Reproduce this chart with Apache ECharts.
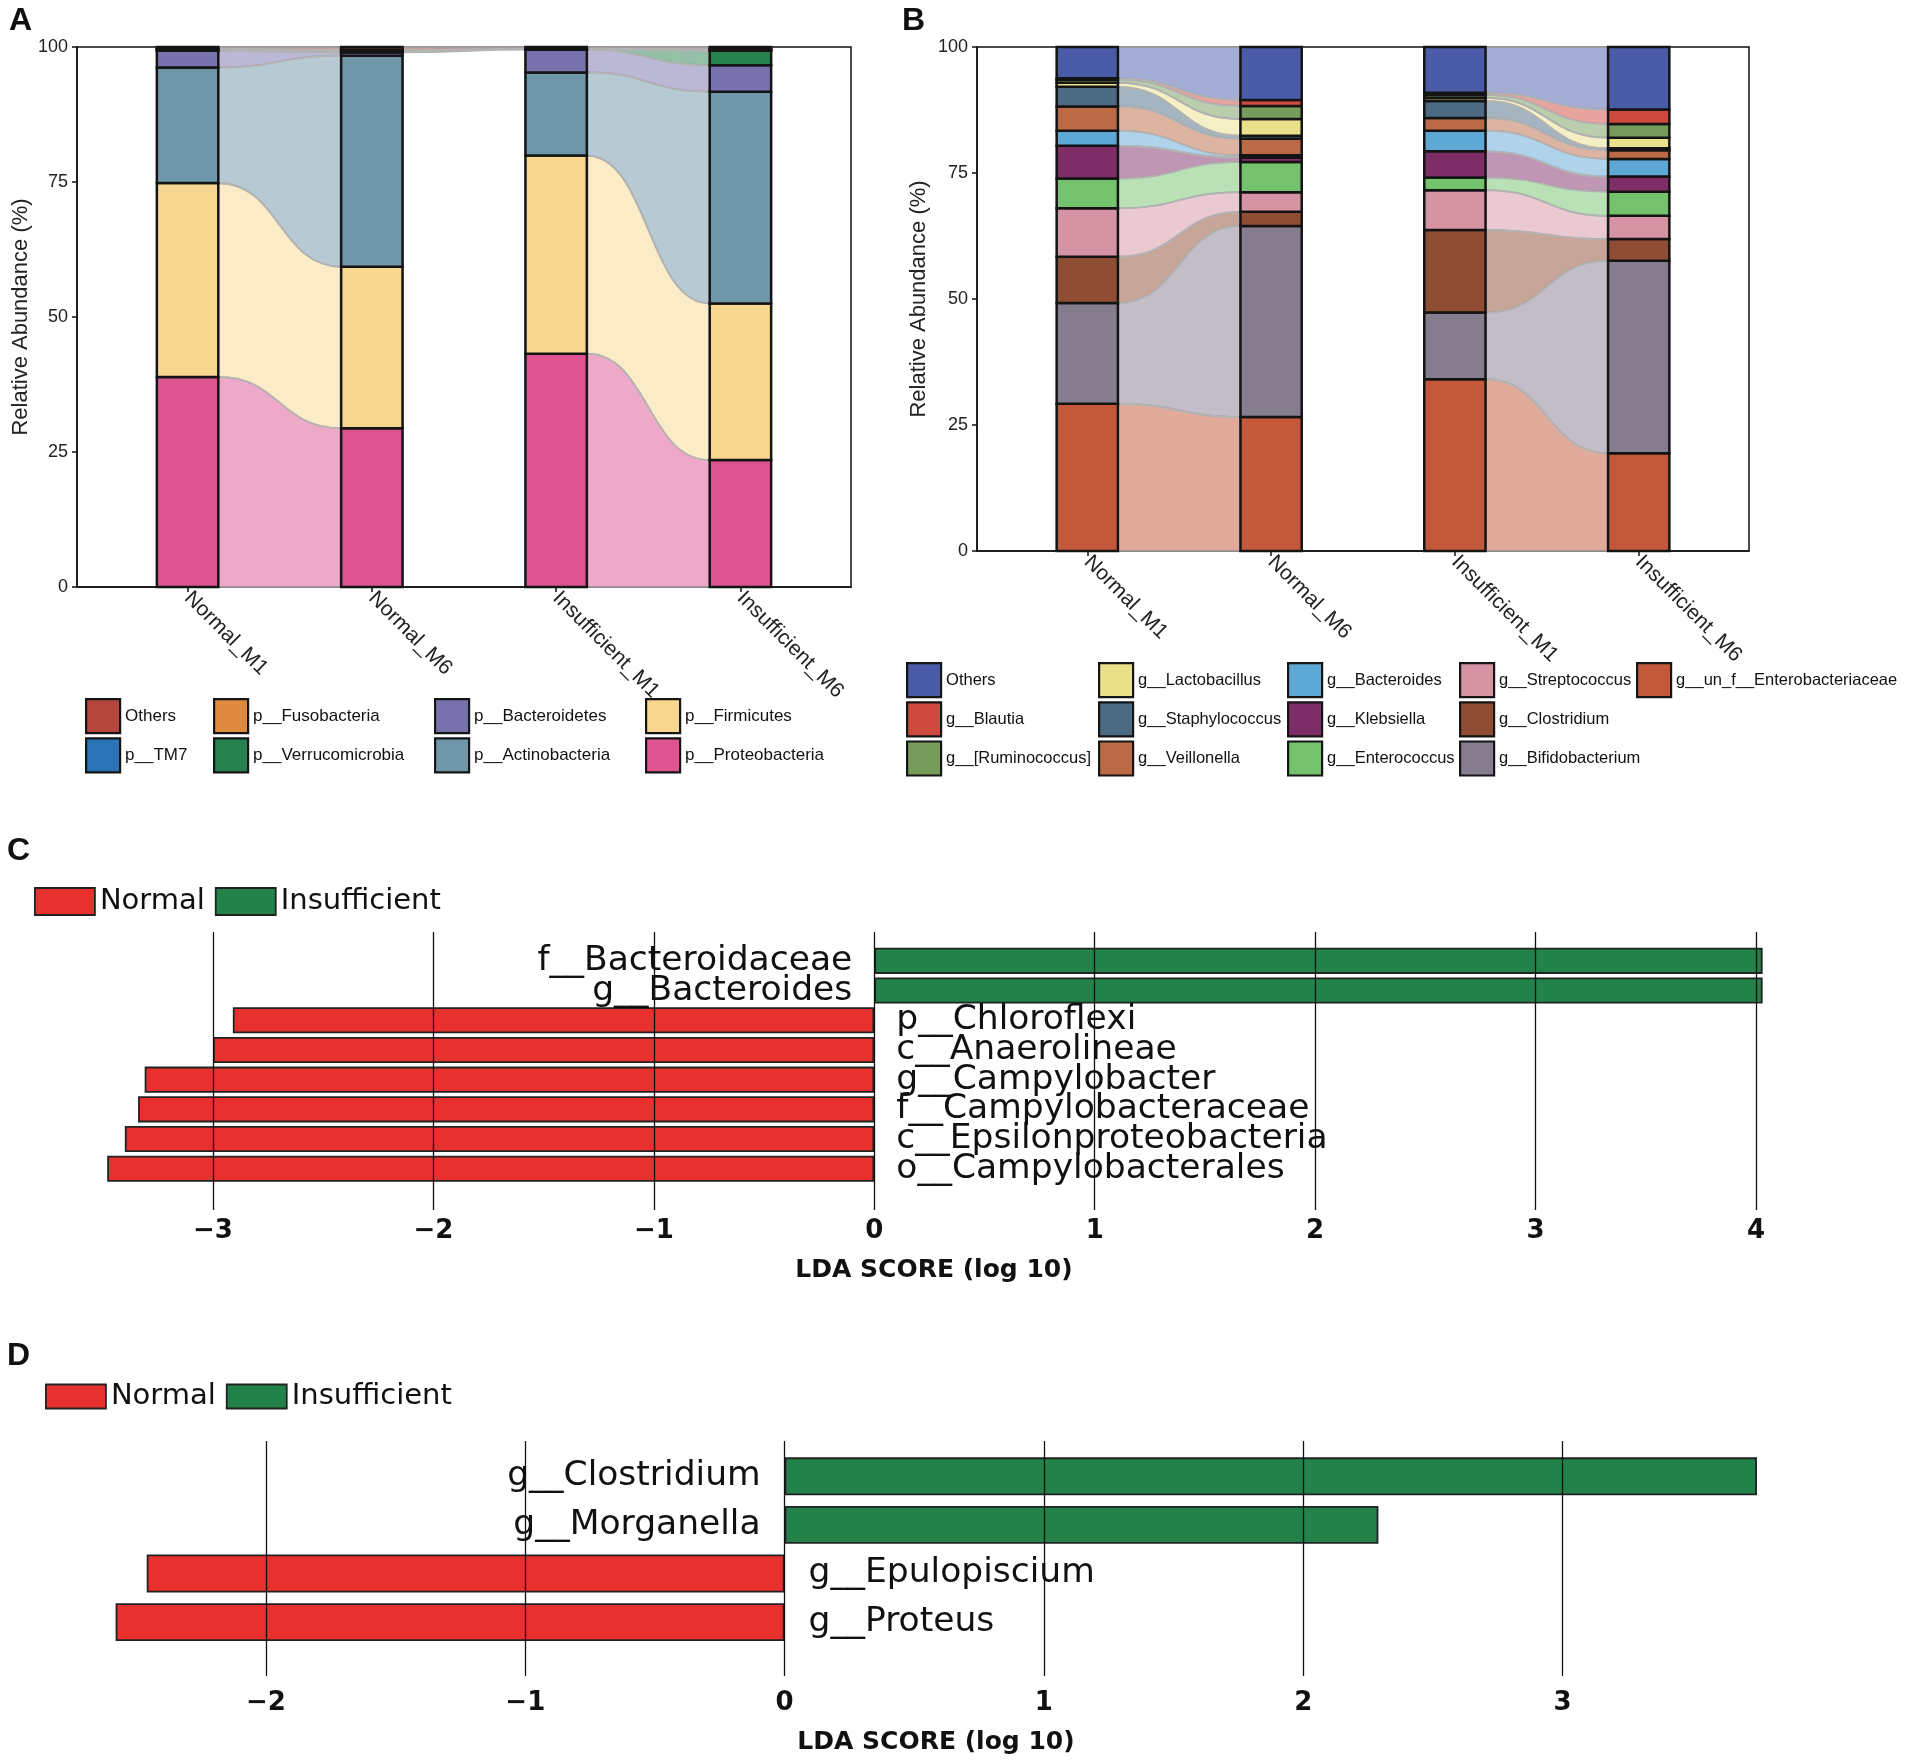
<!DOCTYPE html>
<html><head><meta charset="utf-8">
<script src="https://cdn.jsdelivr.net/npm/echarts@6/dist/echarts.min.js"></script>
<style>html,body{margin:0;padding:0;background:#fff}#c{width:1907px;height:1763px}</style>
</head><body><div id="c"></div><script>
// ---------------- DATA ----------------
const samples = ['Normal_M1', 'Normal_M6', 'Insufficient_M1', 'Insufficient_M6'];
const sampleX = [1, 2, 3, 4];
const abundanceTicks = [0, 25, 50, 75, 100];

// Panel A: phyla, bottom -> top of each stacked bar
const phyla = ['p__Proteobacteria', 'p__Firmicutes', 'p__Actinobacteria', 'p__Bacteroidetes',
  'p__Verrucomicrobia', 'p__Fusobacteria', 'p__TM7', 'Others'];
const phylaColors = ['#DD5491', '#F7D78F', '#7096AA', '#7772AD', '#27814F', '#DF8A3E', '#2A73B5', '#B5463E'];
const phylaNormalM1 = [38.9, 35.9, 21.4, 3.1, 0.2, 0.1, 0.1, 0.3];
const phylaNormalM6 = [29.4, 29.9, 39.1, 0.6, 0.2, 0.2, 0.1, 0.5];
const phylaInsufficientM1 = [43.2, 36.7, 15.4, 4.2, 0.1, 0.1, 0.0, 0.3];
const phylaInsufficientM6 = [23.5, 29.0, 39.2, 4.9, 2.7, 0.2, 0.1, 0.4];
const phylaLegendColumns = [['Others', 'p__TM7'], ['p__Fusobacteria', 'p__Verrucomicrobia'],
  ['p__Bacteroidetes', 'p__Actinobacteria'], ['p__Firmicutes', 'p__Proteobacteria']];

// Panel B: genera, bottom -> top
const genera = ['g__un_f__Enterobacteriaceae', 'g__Bifidobacterium', 'g__Clostridium', 'g__Streptococcus',
  'g__Enterococcus', 'g__Klebsiella', 'g__Bacteroides', 'g__Veillonella', 'g__Staphylococcus',
  'g__Lactobacillus', 'g__[Ruminococcus]', 'g__Blautia', 'Others'];
const generaColors = ['#C4583A', '#857C8E', '#8F4E34', '#D693A4', '#74C36C', '#7F2D67', '#5EA8D6',
  '#BC6A45', '#4C6A84', '#EAE08A', '#769B5A', '#CF4A3E', '#4A5CA8'];
const generaNormalM1 = [29.2, 20.0, 9.2, 9.6, 5.9, 6.5, 3.0, 4.8, 3.9, 0.8, 0.6, 0.3, 6.2];
const generaNormalM6 = [26.6, 37.9, 2.8, 3.9, 6.0, 0.9, 0.4, 3.3, 0.6, 3.3, 2.6, 1.2, 10.5];
const generaInsufficientM1 = [34.1, 13.2, 16.4, 7.9, 2.5, 5.2, 4.1, 2.5, 3.4, 0.6, 0.6, 0.4, 9.1];
const generaInsufficientM6 = [19.4, 38.2, 4.3, 4.6, 4.8, 3.0, 3.5, 1.7, 0.4, 2.1, 2.7, 2.9, 12.4];
const generaLegendColumns = [['Others', 'g__Blautia', 'g__[Ruminococcus]'],
  ['g__Lactobacillus', 'g__Staphylococcus', 'g__Veillonella'],
  ['g__Bacteroides', 'g__Klebsiella', 'g__Enterococcus'],
  ['g__Streptococcus', 'g__Clostridium', 'g__Bifidobacterium'],
  ['g__un_f__Enterobacteriaceae']];

// Panel C: LEfSe
const groups = ['Normal', 'Insufficient'];
const groupColors = ['#E8302F', '#22824A'];
const cTaxa = ['f__Bacteroidaceae', 'g__Bacteroides', 'p__Chloroflexi', 'c__Anaerolineae',
  'g__Campylobacter', 'f__Campylobacteraceae', 'c__Epsilonproteobacteria', 'o__Campylobacterales'];
const cScores = [4.03, 4.03, -2.91, -3.00, -3.31, -3.34, -3.40, -3.48];
const cGroup = ['Insufficient', 'Insufficient', 'Normal', 'Normal', 'Normal', 'Normal', 'Normal', 'Normal'];
const cTicks = [-3, 4];

// Panel D: LEfSe
const dTaxa = ['g__Clostridium', 'g__Morganella', 'g__Epulopiscium', 'g__Proteus'];
const dScores = [3.75, 2.29, -2.46, -2.58];
const dGroup = ['Insufficient', 'Insufficient', 'Normal', 'Normal'];
const dTicks = [-2, 3];

// ---------------- HELPERS ----------------
const SANS = 'Liberation Sans, Arial, sans-serif';
const DJV = 'DejaVu Sans, sans-serif';
const BAR_HALF = 1 / 6;

function rgba(hex, a) {
  const n = parseInt(hex.slice(1), 16);
  return 'rgba(' + (n >> 16 & 255) + ',' + (n >> 8 & 255) + ',' + (n & 255) + ',' + a + ')';
}
function bounds(vals) {
  let s = 0;
  return vals.map(v => { const b = [s, s + v]; s += v; return b; });
}

function strataRender(color) {
  return function (params, api) {
    const x = api.value(0), y0 = api.value(1), y1 = api.value(2);
    if (!(y1 > y0)) return;
    const p0 = api.coord([x - BAR_HALF, y1]);
    const p1 = api.coord([x + BAR_HALF, y0]);
    return { type: 'rect', shape: { x: p0[0], y: p0[1], width: p1[0] - p0[0], height: p1[1] - p0[1] },
      style: { fill: color, stroke: '#141414', lineWidth: 2.5 } };
  };
}
function flowRender(colors) {
  return function (params, api) {
    const xa = api.value(0) + BAR_HALF, xb = api.value(1) - BAR_HALF;
    const a0 = api.coord([xa, api.value(2)]), a1 = api.coord([xa, api.value(3)]);
    const b0 = api.coord([xb, api.value(4)]), b1 = api.coord([xb, api.value(5)]);
    const xm = (a0[0] + b0[0]) / 2;
    const d = 'M' + a1[0] + ',' + a1[1] + ' C' + xm + ',' + a1[1] + ' ' + xm + ',' + b1[1] + ' ' + b1[0] + ',' + b1[1] +
      ' L' + b0[0] + ',' + b0[1] + ' C' + xm + ',' + b0[1] + ' ' + xm + ',' + a0[1] + ' ' + a0[0] + ',' + a0[1] + ' Z';
    return { type: 'path', shape: { pathData: d },
      style: { fill: rgba(colors[api.value(6)], 0.5), stroke: '#b3b3b3', lineWidth: 1.7 } };
  };
}

function alluvialSeries(names, colors, valueSets, gridIdx, pairs) {
  const b = valueSets.map(bounds);
  const flows = [];
  pairs.forEach(([k, from]) => {
    for (let i = from; i < names.length; i++) {
      flows.push([sampleX[k], sampleX[k + 1], b[k][i][0], b[k][i][1], b[k + 1][i][0], b[k + 1][i][1], i]);
    }
  });
  const out = [{
    type: 'custom', xAxisIndex: gridIdx, yAxisIndex: gridIdx, z: 2, silent: true,
    renderItem: flowRender(colors), data: flows
  }];
  names.forEach((nm, i) => {
    out.push({
      type: 'custom', name: nm, xAxisIndex: gridIdx, yAxisIndex: gridIdx, z: 3, silent: true,
      itemStyle: { color: colors[i] },
      renderItem: strataRender(colors[i]),
      data: b.map((bk, k) => [sampleX[k], bk[i][0], bk[i][1]])
    });
  });
  return out;
}

function abundanceAxes(gridIdx) {
  return {
    x: {
      type: 'value', gridIndex: gridIdx, min: 0.4, max: 4.6,
      axisLine: { show: true, lineStyle: { color: '#111', width: 1.5 } },
      axisTick: { show: true, customValues: sampleX, length: 5, lineStyle: { color: '#111', width: 1.5 } },
      axisLabel: { customValues: sampleX, rotate: -45, margin: 8, formatter: v => samples[Math.round(v) - 1],
        fontFamily: SANS, fontSize: 21, color: '#222' },
      splitLine: { show: false }
    },
    y: {
      type: 'value', gridIndex: gridIdx, min: 0, max: 100, interval: 25,
      name: 'Relative Abundance (%)', nameLocation: 'middle', nameRotate: 90, nameGap: gridIdx === 0 ? 45 : 47,
      nameTextStyle: { fontFamily: SANS, fontSize: 22, color: '#222' },
      axisLine: { show: true, lineStyle: { color: '#111', width: 1.5 } },
      axisTick: { show: true, length: 5, lineStyle: { color: '#111', width: 1.5 } },
      axisLabel: { fontFamily: SANS, fontSize: 18, color: '#222', margin: 9 },
      splitLine: { show: false }
    }
  };
}

function legendsFor(columns, names, colors, lefts, top, fs) {
  return columns.map((col, ci) => ({
    orient: 'vertical', left: lefts[ci], top: top, padding: 0, itemGap: 3,
    itemWidth: 34, itemHeight: 34, icon: 'rect', selectedMode: false,
    itemStyle: { borderColor: '#151515', borderWidth: 2.2 },
    textStyle: { fontFamily: SANS, fontSize: fs, color: '#111' },
    data: col.map(nm => ({ name: nm, itemStyle: { color: colors[names.indexOf(nm)] } }))
  }));
}

function ldaTicksFormatter(v) { return v < 0 ? '\u2212' + Math.abs(v) : String(v); }

function ldaSeries(taxa, scores, groupOf, grp, xIdx, fontSize, distance, gap) {
  const gi = groups.indexOf(grp);
  return {
    type: 'bar', name: grp, xAxisIndex: xIdx, yAxisIndex: xIdx, stack: 'lda' + xIdx,
    data: scores.map((v, i) => groupOf[i] === grp ? v : '-'),
    barCategoryGap: gap, clip: false, silent: true, z: 2,
    itemStyle: { color: groupColors[gi], borderColor: '#222', borderWidth: 1.8 },
    label: { show: true, position: grp === 'Insufficient' ? 'left' : 'right', distance: distance,
      formatter: p => p.name, fontFamily: DJV, fontSize: fontSize, color: '#111' }
  };
}

// ---------------- OPTION ----------------
const axA = abundanceAxes(0), axB = abundanceAxes(1);

const grids = [
  { left: 77, top: 47, width: 774, height: 540, show: true, borderColor: '#111', borderWidth: 1.5 },
  { left: 977, top: 47, width: 772, height: 504, show: true, borderColor: '#111', borderWidth: 1.5 },
  { left: 213, top: 932, width: 1543, height: 278 },
  { left: 213, top: 946, width: 1543, height: 237.6 },
  { left: 266, top: 1441, width: 1296.5, height: 235 },
  { left: 266, top: 1452, width: 1296.5, height: 194.4 }
];

function linesAxis(gridIdx, ticks, margin) {
  return {
    type: 'value', gridIndex: gridIdx, min: ticks[0], max: ticks[1], interval: 1, z: 10,
    axisLine: { show: false }, axisTick: { show: false },
    splitLine: { show: true, lineStyle: { color: '#111', width: 1.3 } },
    axisLabel: { formatter: ldaTicksFormatter, fontFamily: DJV, fontWeight: 'bold', fontSize: 26, color: '#111', margin: margin }
  };
}
function hiddenValueAxis(gridIdx, ticks) {
  return { type: 'value', gridIndex: gridIdx, min: ticks[0], max: ticks[1], show: false,
    splitLine: { show: false } };
}

const option = {
  animation: false,
  backgroundColor: '#fff',
  grid: grids,
  xAxis: [axA.x, axB.x, linesAxis(2, cTicks, 8), hiddenValueAxis(3, cTicks), linesAxis(4, dTicks, 14), hiddenValueAxis(5, dTicks)],
  yAxis: [axA.y, axB.y,
    { type: 'value', gridIndex: 2, show: false, splitLine: { show: false } },
    { type: 'category', gridIndex: 3, inverse: true, data: cTaxa, show: false },
    { type: 'value', gridIndex: 4, show: false, splitLine: { show: false } },
    { type: 'category', gridIndex: 5, inverse: true, data: dTaxa, show: false }],
  legend: [].concat(
    legendsFor(phylaLegendColumns, phyla, phylaColors, [85, 213, 434, 645], 698, 17),
    legendsFor(generaLegendColumns, genera, generaColors, [906, 1098, 1287, 1459, 1636], 662, 16.5),
    [{
      left: 34, top: 887, padding: 0, itemGap: 10, itemWidth: 60, itemHeight: 27, icon: 'rect', selectedMode: false,
      itemStyle: { borderColor: '#222', borderWidth: 1.8 },
      textStyle: { fontFamily: DJV, fontSize: 29, color: '#111' },
      data: groups.map((g, i) => ({ name: g, itemStyle: { color: groupColors[i] } }))
    }, {
      left: 45, top: 1382, padding: 0, itemGap: 10, itemWidth: 60, itemHeight: 24, icon: 'rect', selectedMode: false,
      itemStyle: { borderColor: '#222', borderWidth: 1.8 },
      textStyle: { fontFamily: DJV, fontSize: 29, color: '#111' },
      data: groups.map((g, i) => ({ name: g, itemStyle: { color: groupColors[i] } }))
    }]
  ),
  graphic: [
    { type: 'text', x: 9, y: 5, style: { text: 'A', font: 'bold 32px ' + SANS, fill: '#111' } },
    { type: 'text', x: 902, y: 5, style: { text: 'B', font: 'bold 32px ' + SANS, fill: '#111' } },
    { type: 'text', x: 7, y: 835, style: { text: 'C', font: 'bold 32px ' + SANS, fill: '#111' } },
    { type: 'text', x: 7, y: 1340, style: { text: 'D', font: 'bold 32px ' + SANS, fill: '#111' } },
    { type: 'text', x: 934, y: 1270, style: { text: 'LDA SCORE (log 10)', font: 'bold 25px ' + DJV, fill: '#111',
      textAlign: 'center', textVerticalAlign: 'middle' } },
    { type: 'text', x: 936, y: 1742, style: { text: 'LDA SCORE (log 10)', font: 'bold 25px ' + DJV, fill: '#111',
      textAlign: 'center', textVerticalAlign: 'middle' } }
  ],
  series: [].concat(
    alluvialSeries(phyla, phylaColors, [phylaNormalM1, phylaNormalM6, phylaInsufficientM1, phylaInsufficientM6], 0,
      [[0, 0], [1, 4], [2, 0]]),
    alluvialSeries(genera, generaColors, [generaNormalM1, generaNormalM6, generaInsufficientM1, generaInsufficientM6], 1,
      [[0, 0], [2, 0]]),
    [ldaSeries(cTaxa, cScores, cGroup, 'Normal', 3, 34.5, 22, '12%'),
     ldaSeries(cTaxa, cScores, cGroup, 'Insufficient', 3, 34.5, 22, '12%'),
     ldaSeries(dTaxa, dScores, dGroup, 'Normal', 5, 34.5, 24, '22%'),
     ldaSeries(dTaxa, dScores, dGroup, 'Insufficient', 5, 34.5, 24, '22%')]
  )
};

const chart = echarts.init(document.getElementById('c'), null, { renderer: 'canvas' });
chart.setOption(option);
</script></body></html>
